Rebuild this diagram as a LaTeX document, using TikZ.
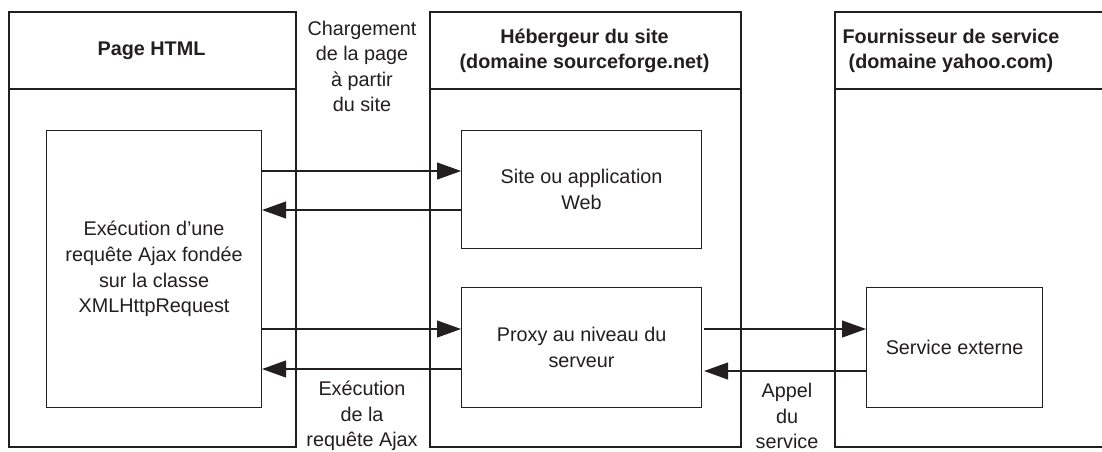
\documentclass[tikz,border=0pt]{standalone}
\usepackage{fontspec}
\setmainfont{Liberation Sans}
\usetikzlibrary{arrows.meta}
\definecolor{ink}{RGB}{35,31,32}
\begin{document}
\begin{tikzpicture}[x=1pt,y=-1pt,
  txt/.style={text=ink, align=center, font=\fontsize{19.8}{25.6}\selectfont},
  head/.style={txt, font=\fontsize{19.8}{25.6}\selectfont\bfseries},
  lane/.style={draw=ink, line width=1.8pt, rectangle, inner sep=0pt, anchor=north west},
  box/.style={txt, draw=ink, line width=1.1pt, rectangle, inner sep=0pt, anchor=north west},
  arr/.style={draw=ink, line width=1.1pt, -{Triangle[length=24pt,width=17pt]}}]
\useasboundingbox (0,0) rectangle (1102,451);
\clip (0,0) rectangle (1102,451);
\fill[white] (0,0) rectangle (1102,451);
% lanes
\node[lane, minimum width=287pt, minimum height=435pt] (laneA) at (8,11) {};
\node[lane, minimum width=311pt, minimum height=435pt] (laneB) at (429,11) {};
\node[lane, minimum width=300pt, minimum height=435pt] (laneC) at (834,11) {};
\coordinate (hd) at (0,89);
\draw[ink, line width=1.1pt] (laneA.west |- hd) -- (laneA.east |- hd);
\draw[ink, line width=1.1pt] (laneB.west |- hd) -- (laneB.east |- hd);
\draw[ink, line width=1.1pt] (laneC.west |- hd) -- (laneC.east |- hd);
% headers
\node[head] (hA) at (151.5,51) {Page HTML};
\node[head] (hB) at (584.5,51) {Hébergeur du site\\(domaine sourceforge.net)};
\node[head] (hC) at (951,51) {Fournisseur de service\\(domaine yahoo.com)};
% inner boxes
\node[box, minimum width=215pt, minimum height=277pt] (exec) at (46,130) {};
\node[txt] (execT) at (exec.center) {Exécution d’une\\requête Ajax fondée\\sur la classe\\XMLHttpRequest};
\node[box, minimum width=240pt, minimum height=118pt] (site) at (461,130) {};
\node[txt] (siteT) at (site.center) {Site ou application\\Web};
\node[box, minimum width=240pt, minimum height=120pt] (proxy) at (461,287) {};
\node[txt] (proxyT) at (proxy.center) {Proxy au niveau du\\serveur};
\node[box, minimum width=176pt, minimum height=120pt] (serv) at (866,287) {};
\node[txt] (servT) at (serv.center) {Service externe};
% arrows
\coordinate (y1) at (0,171);
\coordinate (y2) at (0,210);
\coordinate (y3) at (0,329);
\coordinate (y4) at (0,369);
\coordinate (y5) at (0,371);
\draw[arr] (exec.east |- y1) -- (site.west |- y1);
\draw[arr] (site.west |- y2) -- (exec.east |- y2);
\draw[arr] (exec.east |- y3) -- (proxy.west |- y3);
\draw[arr] (proxy.west |- y4) -- (exec.east |- y4);
\draw[arr] ([xshift=2pt]proxy.east |- y3) -- (serv.west |- y3);
\draw[arr] (serv.west |- y5) -- ([xshift=2pt]proxy.east |- y5);
% labels
\node[txt] (l1) at (362,66.5) {Chargement\\de la page\\à partir\\du site};
\node[txt] (l2) at (362,416) {Exécution\\de la\\requête Ajax};
\node[txt] (l3) at (787,416) {Appel\\du\\service};
\end{tikzpicture}
\end{document}
